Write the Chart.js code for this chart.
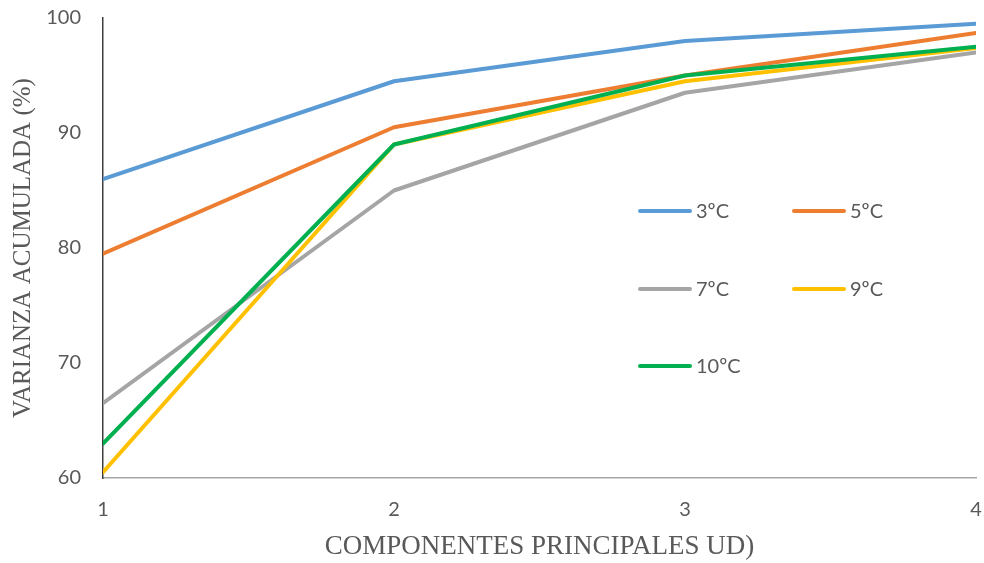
<!DOCTYPE html>
<html>
<head>
<meta charset="utf-8">
<script src="https://cdn.jsdelivr.net/npm/chart.js@4"></script>
<style>
  html, body { margin: 0; padding: 0; background: #fff; }
  #wrap { position: relative; width: 984px; height: 563px; }
</style>
</head>
<body>
<div id="wrap"><canvas id="c" width="984" height="563"></canvas></div>
<script>
const components = [1, 2, 3, 4];
const seriesNames = ['3ºC', '5ºC', '7ºC', '9ºC', '10ºC'];
const s3 = [86, 94.5, 98, 99.5];
const s5 = [79.5, 90.5, 95, 98.7];
const s7 = [66.5, 85, 93.5, 97];
const s9 = [60.5, 89, 94.5, 97.4];
const s10 = [63, 89, 95, 97.5];
const yTicks = [60, 70, 80, 90, 100];
const xTitle = 'COMPONENTES PRINCIPALES UD)';
const yTitle = 'VARIANZA ACUMULADA (%)';

const colors = ['#5B9BD5', '#ED7D31', '#A5A5A5', '#FFC000', '#00B050'];
const allSeries = [s3, s5, s7, s9, s10];

const datasets = allSeries.map((vals, i) => ({
  label: seriesNames[i],
  data: vals.map((v, j) => ({ x: components[j], y: v })),
  borderColor: colors[i],
  backgroundColor: colors[i],
  borderWidth: 4,
  pointRadius: 0,
  tension: 0,
  fill: false,
  order: allSeries.length - i,
  borderCapStyle: 'round',
  borderJoinStyle: 'round'
}));

const legendPlugin = {
  id: 'customLegend',
  afterDatasetsDraw(chart) {
    const ctx = chart.ctx;
    const cols = [638, 792];
    const rows = [211, 289, 366];
    ctx.save();
    ctx.font = '20px Lato';
    ctx.textBaseline = 'middle';
    ctx.textAlign = 'left';
    seriesNames.forEach((name, i) => {
      const x = cols[i % 2];
      const y = rows[Math.floor(i / 2)];
      ctx.strokeStyle = colors[i];
      ctx.lineWidth = 4;
      ctx.lineCap = 'round';
      ctx.beginPath();
      ctx.moveTo(x + 2, y);
      ctx.lineTo(x + 52, y);
      ctx.stroke();
      ctx.fillStyle = '#595959';
      ctx.fillText(name, x + 58, y + 1);
    });
    ctx.restore();
  }
};

new Chart(document.getElementById('c'), {
  type: 'line',
  data: { datasets },
  plugins: [legendPlugin],
  options: {
    responsive: false,
    animation: false,
    layout: { padding: { left: 0, right: 8, top: 18, bottom: 0 } },
    plugins: { legend: { display: false }, tooltip: { enabled: false } },
    scales: {
      x: {
        type: 'linear',
        min: 1, max: 4,
        afterBuildTicks(axis) { axis.ticks = components.map(v => ({ value: v })); },
        grid: { display: false, drawTicks: false },
        border: { display: true, color: '#A6A6A6', width: 1.5 },
        ticks: { color: '#595959', font: { family: 'Lato', size: 20 }, padding: 20 },
        title: { display: true, text: xTitle, color: '#595959', font: { family: 'Liberation Serif', size: 27 }, padding: { top: 8, bottom: 0 } },
        afterFit(axis) { axis.height = 85; axis.paddingLeft = 0; axis.paddingRight = 0; }
      },
      y: {
        min: 60, max: 100,
        afterBuildTicks(axis) { axis.ticks = yTicks.map(v => ({ value: v })); },
        grid: { display: false, drawTicks: false },
        border: { display: true, color: '#404040', width: 1.5 },
        ticks: { color: '#595959', font: { family: 'Lato', size: 20 }, padding: 22 },
        title: { display: true, text: yTitle, color: '#595959', font: { family: 'Liberation Serif', size: 25 }, padding: { top: 8, bottom: 0 } },
        afterFit(axis) { axis.width = 103; axis.paddingTop = 0; axis.paddingBottom = 0; }
      }
    }
  }
});
</script>
</body>
</html>
